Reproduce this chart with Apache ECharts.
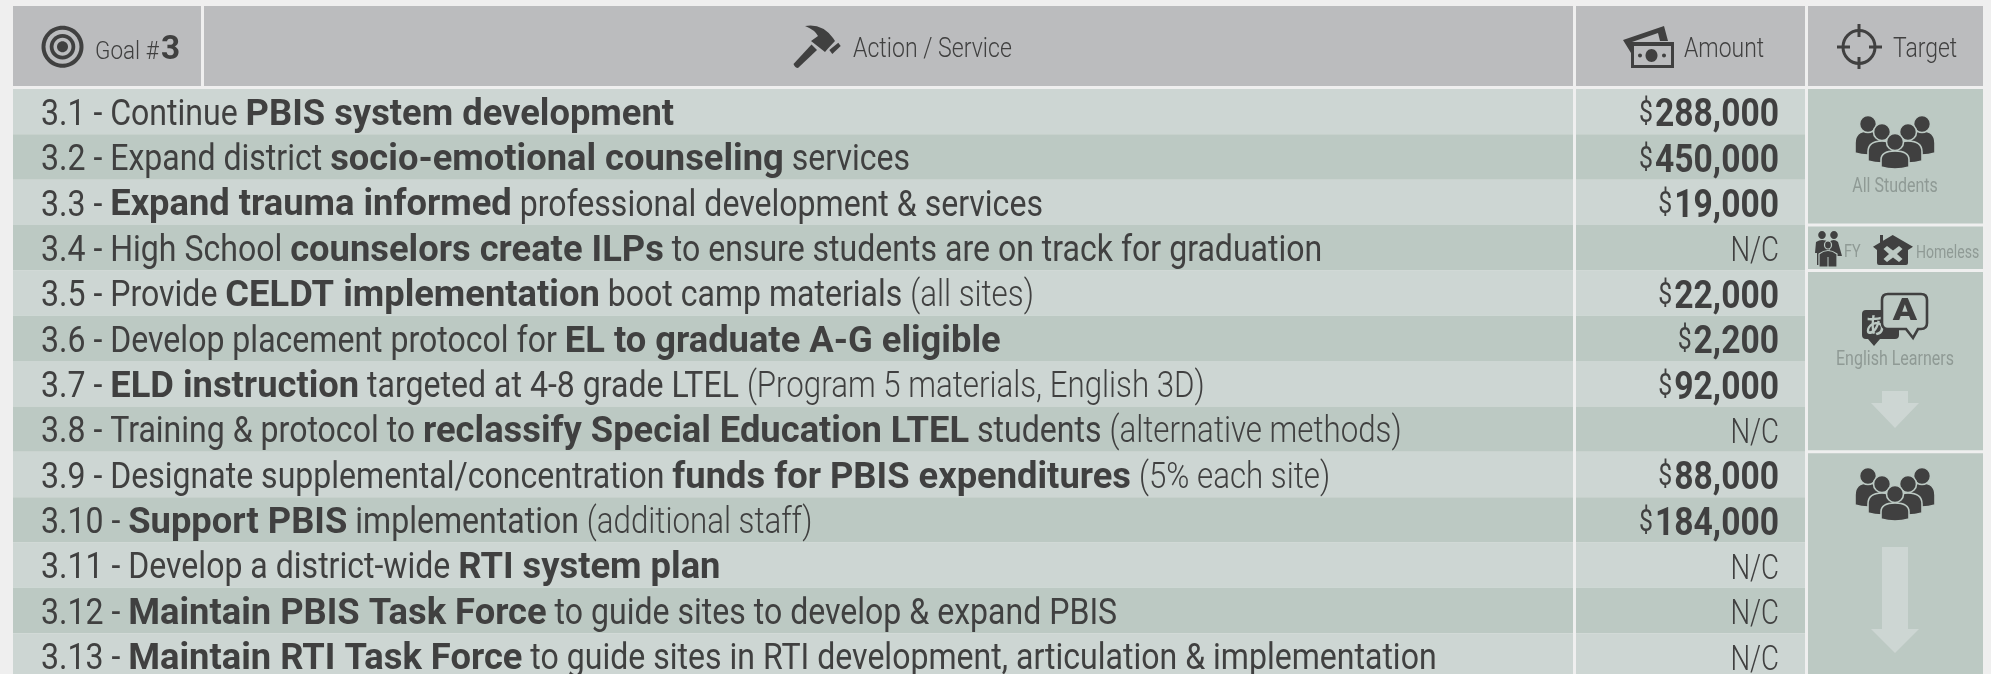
<!DOCTYPE html>
<html><head><meta charset="utf-8">
<style>html,body{margin:0;padding:0;background:#efefef}#c{width:1991px;height:674px}</style>
<script src="https://cdn.jsdelivr.net/npm/echarts@6/dist/echarts.min.js"></script>
</head><body><div id="c"></div>
<script>
var categories = ['3.1','3.2','3.3','3.4','3.5','3.6','3.7','3.8','3.9','3.10','3.11','3.12','3.13'];
var actions = [
 '3.1 - Continue {b|PBIS system development}',
 '3.2 - Expand district {b|socio-emotional counseling} services',
 '3.3 - {b|Expand trauma informed} professional development & services',
 '3.4 - High School {b|counselors create ILPs} to ensure students are on track for graduation',
 '3.5 - Provide {b|CELDT implementation} boot camp materials {l|(all sites)}',
 '3.6 - Develop placement protocol for {b|EL to graduate A-G eligible}',
 '3.7 - {b|ELD instruction} targeted at 4-8 grade LTEL {l|(Program 5 materials, English 3D)}',
 '3.8 - Training & protocol to {b|reclassify Special Education LTEL} students {l|(alternative methods)}',
 '3.9 - Designate supplemental/concentration {b|funds for PBIS expenditures} {l|(5% each site)}',
 '3.10 - {b|Support PBIS} implementation {l|(additional staff)}',
 '3.11 - Develop a district-wide {b|RTI system plan}',
 '3.12 - {b|Maintain PBIS Task Force} to guide sites to develop & expand PBIS',
 '3.13 - {b|Maintain RTI Task Force} to guide sites in RTI development, articulation & implementation'
];
var amounts = [288000,450000,19000,null,22000,2200,92000,null,88000,184000,null,null,null];
var targetFirstRow = [0,3,4,8];
var targetLastRow = [2,3,7,12];
var headers = ['Goal #','3','Action / Service','Amount','Target'];
var targetLabels = ['All Students','FY','Homeless','English Learners'];

var SX = 0.84, DARK = '#404040', ROW_L = '#cdd6d3', ROW_D = '#bcc9c3', HEAD = '#bbbcbe', MUTED = '#8f9a95', BG='#efefef';
var FF = 'Roboto';
var COLS = [[13,1573],[1576,1805]];
var RUN = {
  n:{weight:400,size:37,sx:0.866},
  b:{weight:700,size:36.5,sx:0.995},
  l:{weight:300,size:37,sx:0.845}
};
var mctx = document.createElement('canvas').getContext('2d');
function textW(t,weight,size){ mctx.font = weight+' '+size+'px '+FF; return mctx.measureText(t).width; }
function fmt(v){ return v.toString().replace(/\B(?=(\d{3})+$)/g, ','); }
function parseRuns(s){
  var re=/\{([bl])\|([^}]*)\}|([^{]+)/g, m, out=[];
  while((m=re.exec(s))){ out.push(m[1]?{k:m[1],t:m[2]}:{k:'n',t:m[3]}); }
  return out;
}

function renderRow(params, api){
  var i = api.value(0);
  var top = api.coord([0,i])[1];
  var h = api.coord([0,i+1])[1]-top;
  var mid = top + h/2;
  var fill = i % 2 ? ROW_D : ROW_L;
  var kids = COLS.map(function(c){
    return {type:'rect', shape:{x:c[0],y:top,width:c[1]-c[0],height:h}, style:{fill:fill}};
  });
  var cx = 41;
  parseRuns(actions[i]).forEach(function(r){
    var st = RUN[r.k], lead = r.t.match(/^ */)[0], body = r.t.slice(lead.length);
    cx += textW(lead,st.weight,st.size)*st.sx;
    kids.push({type:'text', x:cx, y:mid+4, scaleX:st.sx, style:{
      text:body, x:0, y:0, align:'left', verticalAlign:'middle',
      fontFamily:FF, fontSize:st.size, fontWeight:st.weight, fill:DARK}});
    cx += textW(body,st.weight,st.size)*st.sx;
  });
  var a = amounts[i];
  if (a === null) {
    kids.push({type:'text', x:1779, y:mid+5, scaleX:0.79, style:{
      text:'N/C', x:0,y:0, align:'right', verticalAlign:'middle',
      fontFamily:FF, fontSize:35, fontWeight:300, fill:DARK}});
  } else {
    var s = fmt(a), dsx = 0.862;
    kids.push({type:'text', x:1779, y:mid+5, scaleX:dsx, style:{
      text:s, x:0,y:0, align:'right', verticalAlign:'middle',
      fontFamily:FF, fontSize:39, fontWeight:700, fill:DARK}});
    kids.push({type:'text', x:1779-textW(s,700,39)*dsx-2, y:mid+3, scaleX:0.8, style:{
      text:'$', x:0,y:0, align:'right', verticalAlign:'middle',
      fontFamily:FF, fontSize:31, fontWeight:400, fill:DARK}});
  }
  return {type:'group', children:kids};
}
function renderTarget(params, api){
  var i = params.dataIndex;
  var top = api.coord([0,targetFirstRow[i]])[1] + (i?1.5:0);
  var bot = api.coord([0,targetLastRow[i]+1])[1] - 1.5;
  return {type:'rect', shape:{x:1808,y:top,width:175,height:bot-top}, style:{fill:ROW_D}};
}

/* ---- decorative icons ---- */
function E(cx,cy,rx,ry,fill,stroke,lw){return {type:'ellipse',shape:{cx:cx,cy:cy,rx:rx,ry:ry},style:{fill:fill,stroke:stroke||null,lineWidth:lw||0}};}
function P(d,fill,stroke,lw){return {type:'path',shape:{pathData:d},style:{fill:fill,stroke:stroke||null,lineWidth:lw||0}};}
function R(x,y,w,h,fill,r){return {type:'rect',shape:{x:x,y:y,width:w,height:h,r:r||0},style:{fill:fill}};}
function T(text,x,y,size,weight,fill,align,sx){return {type:'text',x:x,y:y,scaleX:sx||SX,style:{text:text,x:0,y:0,align:align||'left',verticalAlign:'middle',fontFamily:FF,fontSize:size,fontWeight:weight,fill:fill}};}
function person(cx,headY,hr,top,bot,w,bg){
  var m=top+(bot-top)*.55;
  var d='M'+(cx-w)+' '+bot+'L'+(cx-w)+' '+m+'Q'+(cx-w)+' '+top+' '+cx+' '+top+'Q'+(cx+w)+' '+top+' '+(cx+w)+' '+m+'L'+(cx+w)+' '+bot+'Q'+cx+' '+(bot+4)+' '+(cx-w)+' '+bot+'Z';
  return [P(d,DARK,bg,1.6),E(cx,headY,hr,hr,DARK,bg,1.6)];
}
function group(dy){
  var c=1895, g=[];
  g=g.concat(person(c-27,124+dy,8.5,131+dy,153+dy,13,ROW_D));
  g=g.concat(person(c+27,124+dy,8.5,131+dy,153+dy,13,ROW_D));
  g=g.concat(person(c-13,132+dy,8.5,141+dy,161+dy,14,ROW_D));
  g=g.concat(person(c+13,132+dy,8.5,141+dy,161+dy,14,ROW_D));
  g=g.concat(person(c,142+dy,8.5,151+dy,167+dy,14,ROW_D));
  return g;
}
var icons = [].concat(
  [R(13,6,1560,80,HEAD), R(201,4,3,82,BG), R(1576,6,229,80,HEAD), R(1808,6,175,80,HEAD)],
  // goal target
  [E(62.5,46.7,21,21,DARK),E(62.5,46.7,17,17,HEAD),E(62.5,46.7,12.8,12.8,DARK),E(62.5,46.7,9,9,HEAD),E(62.5,46.7,5.5,5.5,DARK)],
  [T(headers[0],95,52,26.5,300,DARK,'left',.85),T(headers[1],161,50,34,700,DARK,'left',.98)],
  // hammer
  [P('M793.5 64L811.5 44.5L817 50L798 68Q795 68 793.5 64Z',DARK),
   P('M805 26Q822 23 833 38L835 41L828 48.5L825 52L811 41L818 36Q815 30 805 26Z',DARK),
   P('M829.3 50L838.3 42.7L840.7 46L832.3 54Z',DARK)],
  [T(headers[2],853,50,27.5,300,DARK)],
  // cash
  [P('M1623 40L1664 26L1668 41L1660 41L1658 33L1632 42L1635 53L1631 53Z',DARK),
   R(1631,42,43,26,DARK),R(1634,46,37,19,HEAD),E(1651.5,55.5,6,6.5,DARK),E(1640,55.5,2,2,DARK),E(1664,55.5,2,2,DARK)],
  [T(headers[3],1684,50,27,300,DARK,'left',.85)],
  // crosshair
  [E(1859,47,16,16.5,'none',DARK,3),R(1837,45.5,13,3,DARK),R(1869,45.5,13,3,DARK),R(1857.5,24,3,13,DARK),R(1857.5,57,3,12,DARK)],
  [T(headers[4],1893,50,27,300,DARK,'left',.85)]
);
icons = icons.concat(group(0), group(352));
icons = icons.concat(
  [T(targetLabels[0],1895,187,20,400,MUTED,'center',.8)],
  // family
  [E(1822,235,3.8,4,DARK),E(1834,235,3.8,4,DARK),
   P('M1815 253L1816 242Q1822 238 1829 242L1829 265L1817 265L1817 253Z',DARK),
   P('M1829 242Q1834 238 1838 242L1842 256L1830 256Z',DARK),
   E(1828,245,3.5,4,DARK,ROW_D,1.2),
   P('M1819 267L1819 254Q1828 247 1837 254L1837 267Z',DARK,ROW_D,1.2),
   R(1827.5,257,1,10,ROW_D)],
  [T(targetLabels[1],1844,252,18,400,MUTED,'left',.8)],
  // house with x
  [P('M1873 246.7L1892.7 235L1913 246.7L1908 250L1908 263Q1908 265 1906 265L1879 265Q1877 265 1877 263L1877 250Z',DARK),
   R(1880,235,3,8,DARK),
   P('M1887 246L1893 250.5L1899 246L1902.5 249L1897 254L1902.5 259L1899 262L1893 257.5L1887 262L1883.5 259L1889 254L1883.5 249Z',ROW_D)],
  [T(targetLabels[2],1916,253,18,400,MUTED,'left',.78)],
  // speech bubbles
  [P('M1866 310L1895 310Q1899 310 1899 314L1899 335Q1899 339 1895 339L1880 339L1874 346L1868 339L1866 339Q1862 339 1862 335L1862 314Q1862 310 1866 310Z',DARK),
   {type:'text',x:1875,y:325,scaleX:.9,style:{text:'あ',x:0,y:0,align:'center',verticalAlign:'middle',fontFamily:'Noto Sans CJK JP',fontSize:22,fontWeight:700,fill:ROW_D}},
   P('M1888 294L1921 294Q1927 294 1927 300L1927 323Q1927 329 1921 329L1918 329L1913 338L1906 329L1888 329Q1882 329 1882 323L1882 300Q1882 294 1888 294Z',ROW_D,DARK,2.6),
   {type:'text',x:1905,y:312.5,scaleX:1.15,style:{text:'A',x:0,y:0,align:'center',verticalAlign:'middle',fontFamily:FF,fontSize:31,fontWeight:900,fill:DARK}},
   T(targetLabels[3],1895,360,20,400,MUTED,'center',.8)],
  // arrows
  [P('M1882 391L1908 391L1908 403L1919 403L1895 428L1871 403L1882 403Z',ROW_L),
   P('M1882 547L1908 547L1908 629L1919 629L1895 653L1871 629L1882 629Z',ROW_L)]
);

var chart = echarts.init(document.getElementById('c'), null, {renderer:'canvas'});
var rowData = categories.map(function(c,i){return [i,0,c];});
chart.setOption({
  animation:false,
  backgroundColor:BG,
  grid:{left:0,top:89,width:1991,height:585},
  xAxis:{type:'value',min:0,max:1991,show:false},
  yAxis:{type:'value',min:0,max:12.9,inverse:true,show:false},
  tooltip:{show:false},
  series:[
    {type:'custom',clip:false,z:2,silent:true,encode:{x:1,y:0},data:rowData,renderItem:renderRow},
    {type:'custom',clip:false,z:4,silent:true,encode:{x:1,y:0},data:targetFirstRow.map(function(r){return [r,0];}),renderItem:renderTarget},
    {type:'custom',clip:false,z:5,silent:true,encode:{x:1,y:0},data:[[0,0]],renderItem:function(){return {type:'group',children:icons};}}
  ]
});
</script></body></html>
